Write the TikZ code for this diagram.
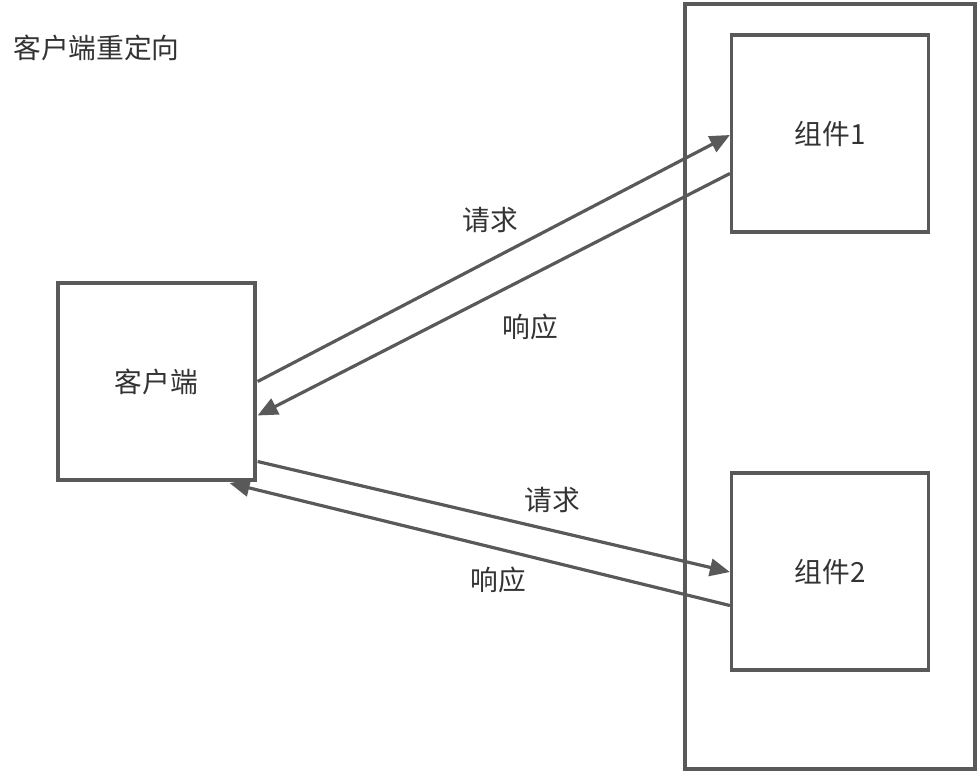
\documentclass[tikz,border=0pt]{standalone}
\usepackage{fontspec}
\setmainfont{Noto Sans CJK SC}
\usetikzlibrary{arrows.meta,calc}
\definecolor{linegray}{HTML}{595959}
\definecolor{textgray}{HTML}{333333}
\begin{document}
\begin{tikzpicture}[x=0.75pt,y=-0.75pt,
  box/.style={draw=linegray,line width=2.4pt,rectangle,inner sep=0pt,minimum width=147.75pt,minimum height=147.75pt,text=textgray,font=\fontsize{20.8}{24}\selectfont},
  conn/.style={draw=linegray,line width=2.4pt,-{Triangle[length=15pt,width=13pt]}},
  lbl/.style={text=textgray,font=\fontsize{20.8}{24}\selectfont,inner sep=0pt}]
\useasboundingbox (0,0) rectangle (980,774);
\node[draw=linegray,line width=2.4pt,rectangle,inner sep=0pt,minimum width=217.5pt,minimum height=573.75pt] (outer) at (830,386.5) {};
\node[box] (client) at (156.5,381.5) {客户端};
\node[box] (comp1) at (830,133.5) {组件1};
\node[box] (comp2) at (830,571.5) {组件2};
\node[lbl,anchor=west] (title) at (13,48) {客户端重定向};
\coordinate (r1s) at ($(client.east)+(1,0)$);
\coordinate (r1e) at ($(comp1.west)+(0,1.5)$);
\coordinate (p1s) at ($(comp1.west)+(0,40)$);
\coordinate (p1e) at ($(client.east)+(1,34)$);
\coordinate (r2s) at ($(client.east)+(1,80)$);
\coordinate (r2e) at ($(comp2.west)+(0,0.5)$);
\coordinate (p2s) at ($(comp2.west)+(0,34)$);
\coordinate (p2e) at ($(client.south east)+(-27,1.5)$);
\draw[conn] (r1s) -- (r1e);
\draw[conn] (p1s) -- (p1e);
\draw[conn] (r2s) -- (r2e);
\draw[conn] (p2s) -- (p2e);
\node[lbl] (l1) at (490,220) {请求};
\node[lbl] (l2) at (530,327) {响应};
\node[lbl] (l3) at (552,500) {请求};
\node[lbl] (l4) at (498,580) {响应};
\end{tikzpicture}
\end{document}
